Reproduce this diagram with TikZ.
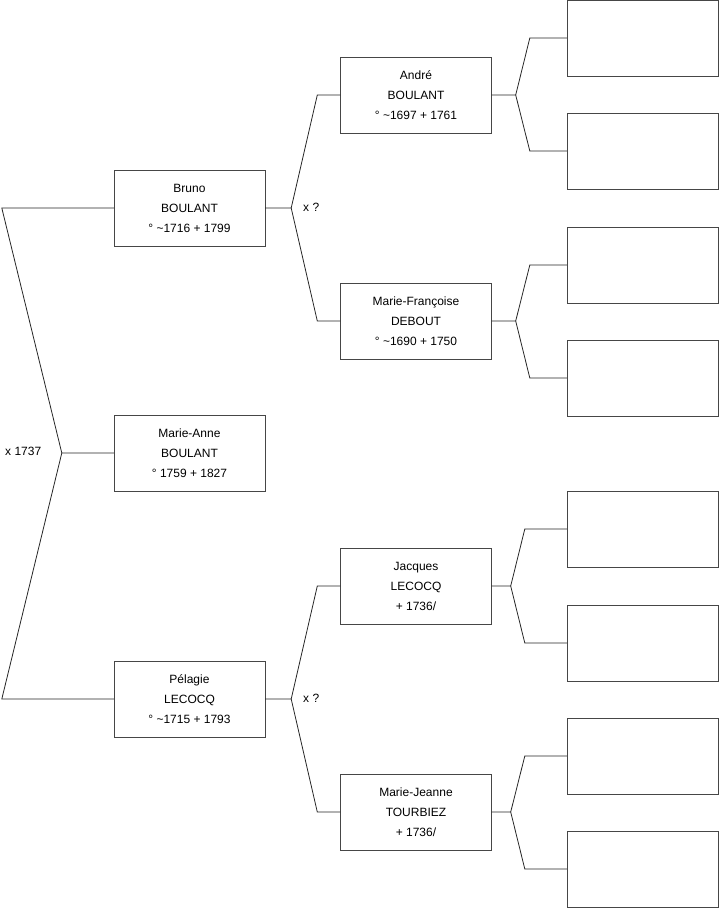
\documentclass[tikz,border=0pt]{standalone}
\usepackage{fontspec}
\setmainfont{Liberation Sans}
\usetikzlibrary{positioning}
\definecolor{boxgray}{RGB}{70,70,70}

\begin{document}
\begin{tikzpicture}[x=1pt, y=-1pt,
      person/.style={rectangle, draw=boxgray, fill=white, minimum width=151pt,
                     minimum height=76pt, align=center, inner sep=0pt,
                     font=\fontsize{12}{20}\selectfont},
      link/.style={draw=black!85, line width=0.8pt},
      union/.style={anchor=west, inner sep=0pt, font=\fontsize{12}{14}\selectfont}
    ]
    \useasboundingbox (0,0) rectangle (719,908);

    % generation 1
    \node[person] (bruno)    at (189.5,208) {Bruno\\BOULANT\\° \textasciitilde1716 + 1799};
    \node[person] (marieanne) at (189.5,453) {Marie-Anne\\BOULANT\\° 1759 + 1827};
    \node[person] (pelagie)  at (189.5,699) {Pélagie\\LECOCQ\\° \textasciitilde1715 + 1793};

    % generation 2
    \node[person] (andre)    at (416,95)  {André\\BOULANT\\° \textasciitilde1697 + 1761};
    \node[person] (francoise) at (416,321) {Marie-Françoise\\DEBOUT\\° \textasciitilde1690 + 1750};
    \node[person] (jacques)  at (416,586) {Jacques\\LECOCQ\\+ 1736/};
    \node[person] (jeanne)   at (416,812) {Marie-Jeanne\\TOURBIEZ\\+ 1736/};

    % generation 3 (unknown)
    \node[person] (e1) at (642.5,38)  {};
    \node[person] (e2) at (642.5,151) {};
    \node[person] (e3) at (642.5,265) {};
    \node[person] (e4) at (642.5,378) {};
    \node[person] (e5) at (642.5,529) {};
    \node[person] (e6) at (642.5,643) {};
    \node[person] (e7) at (642.5,756) {};
    \node[person] (e8) at (642.5,869) {};

    % marriages
    \node[union] (m0) at (5,451)   {x 1737};
    \node[union] (m1) at (303,207) {x ?};
    \node[union] (m2) at (303,698) {x ?};

    % root to parents
    \draw[link] (marieanne.west) -- ++(-52,0) coordinate (j0)
                -- ([xshift=-112pt]bruno.west) -- (bruno.west);
    \draw[link] (j0) -- ([xshift=-112pt]pelagie.west) -- (pelagie.west);

    % parents to grandparents
    \draw[link] (bruno.east) -- ++(26,0) coordinate (j1)
                -- ([xshift=-23pt]andre.west) -- (andre.west);
    \draw[link] (j1) -- ([xshift=-23pt]francoise.west) -- (francoise.west);
    \draw[link] (pelagie.east) -- ++(26,0) coordinate (j2)
                -- ([xshift=-23pt]jacques.west) -- (jacques.west);
    \draw[link] (j2) -- ([xshift=-23pt]jeanne.west) -- (jeanne.west);

    % grandparents to great-grandparents
    \draw[link] (andre.east) -- ++(24,0) coordinate (j3)
                -- ([xshift=-37pt]e1.west) -- (e1.west);
    \draw[link] (j3) -- ([xshift=-37pt]e2.west) -- (e2.west);
    \draw[link] (francoise.east) -- ++(24,0) coordinate (j4)
                -- ([xshift=-37pt]e3.west) -- (e3.west);
    \draw[link] (j4) -- ([xshift=-37pt]e4.west) -- (e4.west);
    \draw[link] (jacques.east) -- ++(19,0) coordinate (j5)
                -- ([xshift=-42pt]e5.west) -- (e5.west);
    \draw[link] (j5) -- ([xshift=-42pt]e6.west) -- (e6.west);
    \draw[link] (jeanne.east) -- ++(19,0) coordinate (j6)
                -- ([xshift=-42pt]e7.west) -- (e7.west);
    \draw[link] (j6) -- ([xshift=-42pt]e8.west) -- (e8.west);
  \end{tikzpicture}
\end{document}
